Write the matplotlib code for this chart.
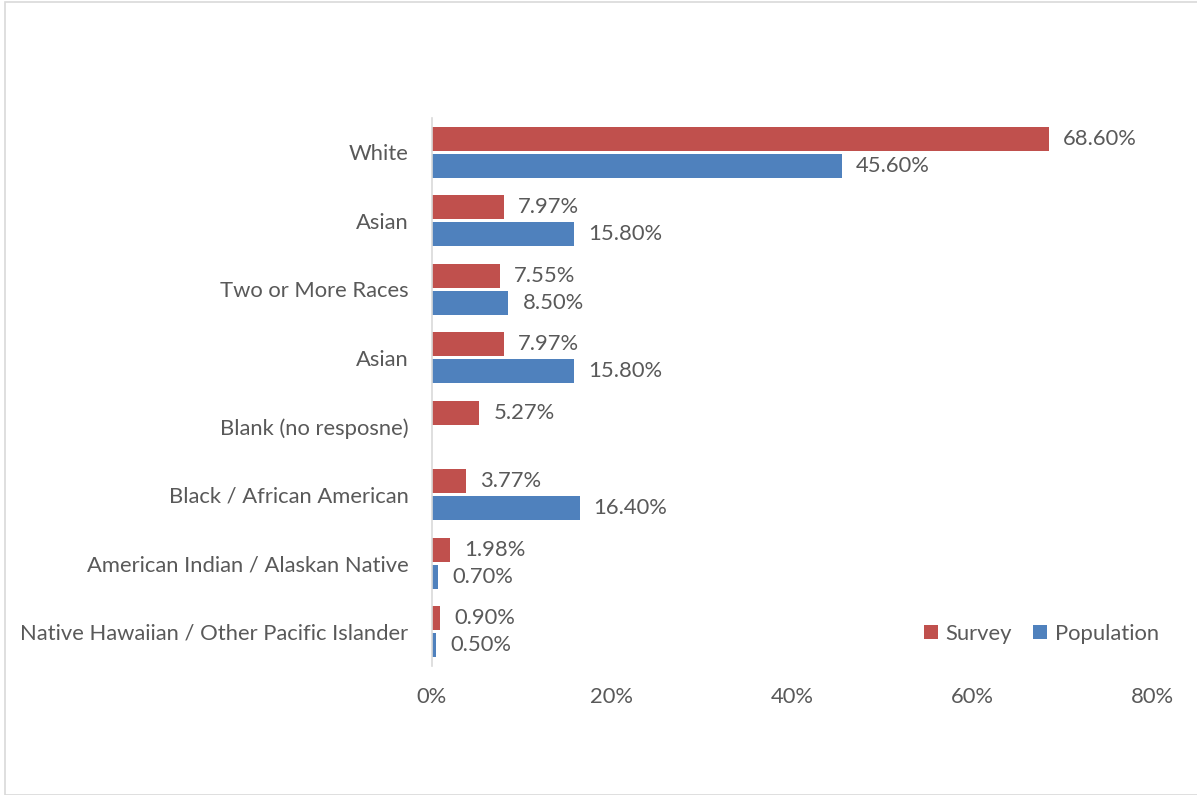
import matplotlib
matplotlib.use("Agg")
import matplotlib.pyplot as plt
import numpy as np
from matplotlib.patches import Rectangle

categories = ["White", "Asian", "Two or More Races", "Asian", "Blank (no resposne)",
              "Black / African American", "American Indian / Alaskan Native",
              "Native Hawaiian / Other Pacific Islander"]
survey = [68.60, 7.97, 7.55, 7.97, 5.27, 3.77, 1.98, 0.90]
population = [45.60, 15.80, 8.50, 15.80, None, 16.40, 0.70, 0.50]
x_ticks = [0, 20, 40, 60, 80]

RED = "#C0504D"
BLUE = "#4F81BD"
TEXT = "#595959"
FS = 15.8
plt.rcParams["font.family"] = ["Lato", "DejaVu Sans"]

fig = plt.figure(figsize=(11.97, 7.95), dpi=100)
fig.patches.append(Rectangle((0.0045, 0.0), 1.2, 0.9975, transform=fig.transFigure,
                             fill=False, edgecolor="#d9d9d9", linewidth=1.2))
ax = fig.add_axes([0.3609, 0.1623, 0.6015, 0.6893])

y = np.arange(len(categories))
h = 0.35
off = 0.2
ax.barh(y - off, survey, height=h, color=RED, label="Survey")
pop_vals = [np.nan if v is None else v for v in population]
ax.barh(y + off, pop_vals, height=h, color=BLUE, label="Population")

for i, v in enumerate(survey):
    ax.annotate(f"{v:.2f}%", (v, i - off), xytext=(10, 0), textcoords="offset points",
                va="center", ha="left", fontsize=FS, color=TEXT)
for i, v in enumerate(population):
    if v is None:
        continue
    ax.annotate(f"{v:.2f}%", (v, i + off), xytext=(10, 0), textcoords="offset points",
                va="center", ha="left", fontsize=FS, color=TEXT)

ax.set_xlim(0, 80)
ax.set_ylim(len(categories) - 0.5, -0.5)
ax.set_yticks(y)
ax.set_yticklabels(categories, fontsize=FS, color=TEXT)
ax.set_xticks(x_ticks)
ax.set_xticklabels([f"{t}%" for t in x_ticks], fontsize=FS, color=TEXT)
ax.tick_params(axis="both", length=0)
ax.tick_params(axis="y", pad=17)
ax.tick_params(axis="x", pad=15)
for s in ["top", "right", "bottom"]:
    ax.spines[s].set_visible(False)
ax.spines["left"].set_color("#d9d9d9")
ax.spines["left"].set_linewidth(1.2)

leg = ax.legend(loc="lower right", bbox_to_anchor=(1.037, 0.0045), ncol=2, frameon=False,
                fontsize=FS, handlelength=0.65, handleheight=0.65, handletextpad=0.35,
                columnspacing=0.95)
for t in leg.get_texts():
    t.set_color(TEXT)

fig.savefig("out.png", dpi=100)
